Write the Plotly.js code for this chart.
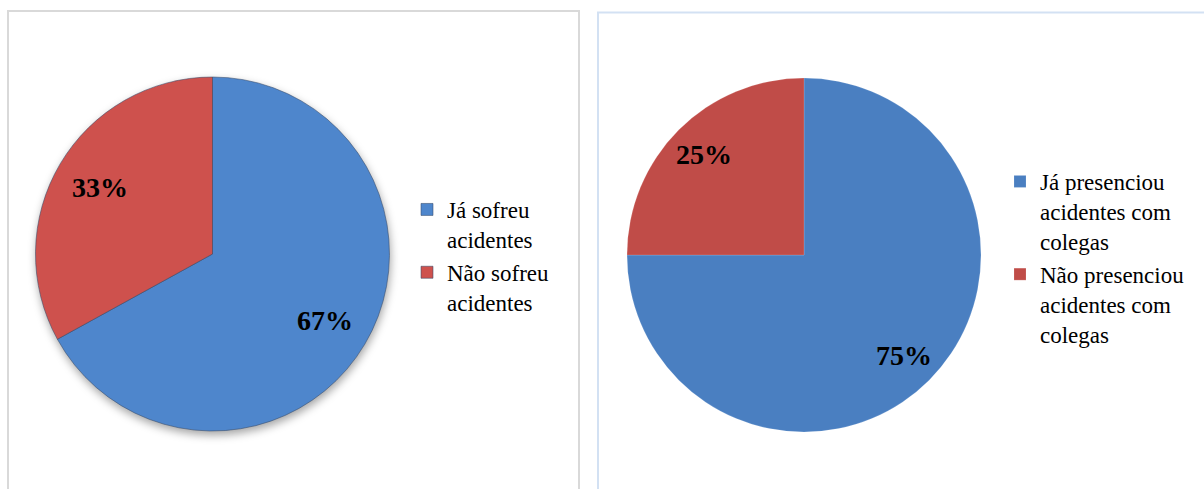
<!DOCTYPE html>
<html>
<head>
<meta charset="utf-8">
<script src="https://cdn.plot.ly/plotly-3.0.1.min.js"></script>
<style>
html,body{margin:0;padding:0;background:#fff;}
#chart{width:1204px;height:489px;}
#chart .pielayer g.trace:first-child{filter:drop-shadow(1px 4px 4px rgba(0,0,0,0.35));}
</style>
</head>
<body>
<div id="chart"></div>
<script>
// ---- data ----
var labelsLeft = ["Já sofreu<br>acidentes", "Não sofreu<br>acidentes"];
var valuesLeft = [67, 33];
var labelsRight = ["Já presenciou<br>acidentes com<br>colegas", "Não presenciou<br>acidentes com<br>colegas"];
var valuesRight = [75, 25];

// ---- layout constants ----
var W = 1204, H = 489;
var SERIF = '"Liberation Serif", "Times New Roman", serif';
var pieL = {cx: 212.5, cy: 254, r: 177, frac: 0.74};
var pieR = {cx: 804, cy: 255, r: 177, frac: 0.80};

function domainOf(p) {
  return {
    x: [(p.cx - p.r) / W, (p.cx + p.r) / W],
    y: [1 - (p.cy + p.r) / H, 1 - (p.cy - p.r) / H]
  };
}

function pctLabels(values, p) {
  var total = values.reduce(function (a, b) { return a + b; }, 0);
  var cum = 0, out = [];
  values.forEach(function (v) {
    var mid = (cum + v / 2) / total;
    cum += v;
    var a = mid * 2 * Math.PI;
    var px = p.cx + p.frac * p.r * Math.sin(a);
    var py = p.cy - p.frac * p.r * Math.cos(a);
    out.push({
      x: px / W, y: 1 - py / H, xref: 'paper', yref: 'paper',
      text: '<b>' + Math.round(v / total * 100) + '%</b>', showarrow: false,
      xanchor: 'center', yanchor: 'middle',
      font: {family: SERIF, size: 28, color: '#000'}
    });
  });
  return out;
}

var traces = [
  {
    type: 'pie', labels: labelsLeft, values: valuesLeft, sort: false,
    direction: 'clockwise', rotation: 0, domain: domainOf(pieL),
    textinfo: 'none', hoverinfo: 'label+percent',
    marker: {colors: ['#4e86cc', '#ce514d'], line: {color: 'rgba(55,75,105,0.55)', width: 1}},
    legend: 'legend'
  },
  {
    type: 'pie', labels: labelsRight, values: valuesRight, sort: false,
    direction: 'clockwise', rotation: 0, domain: domainOf(pieR),
    textinfo: 'none', hoverinfo: 'label+percent',
    marker: {colors: ['#4a7fc1', '#c04c48'], line: {color: 'rgba(255,255,255,0.3)', width: 0.5}},
    legend: 'legend2'
  }
];

var layout = {
  width: W, height: H,
  margin: {l: 0, r: 0, t: 0, b: 0},
  paper_bgcolor: '#fff',
  font: {family: SERIF, color: '#000'},
  showlegend: true,
  legend: {x: 407 / W, y: 1 - 256 / H, xanchor: 'left', yanchor: 'middle', valign: 'top',
           font: {family: SERIF, size: 23, color: '#000'}, bgcolor: 'rgba(0,0,0,0)', itemclick: false},
  legend2: {x: 1000 / W, y: 1 - 258 / H, xanchor: 'left', yanchor: 'middle', valign: 'top',
            font: {family: SERIF, size: 23, color: '#000'}, bgcolor: 'rgba(0,0,0,0)', itemclick: false},
  annotations: pctLabels(valuesLeft, pieL).concat(pctLabels(valuesRight, pieR)),
  shapes: [
    {type: 'rect', xref: 'paper', yref: 'paper', x0: 8 / W, x1: 579 / W, y0: -0.05, y1: 1 - 11 / H,
     line: {color: '#d9d9d9', width: 2}, fillcolor: 'rgba(0,0,0,0)', layer: 'below'},
    {type: 'rect', xref: 'paper', yref: 'paper', x0: 598 / W, x1: 1.05, y0: -0.05, y1: 1 - 12.5 / H,
     line: {color: '#d3e1f3', width: 2}, fillcolor: 'rgba(0,0,0,0)', layer: 'below'}
  ]
};

Plotly.newPlot('chart', traces, layout, {displayModeBar: false, staticPlot: true});
</script>
</body>
</html>
